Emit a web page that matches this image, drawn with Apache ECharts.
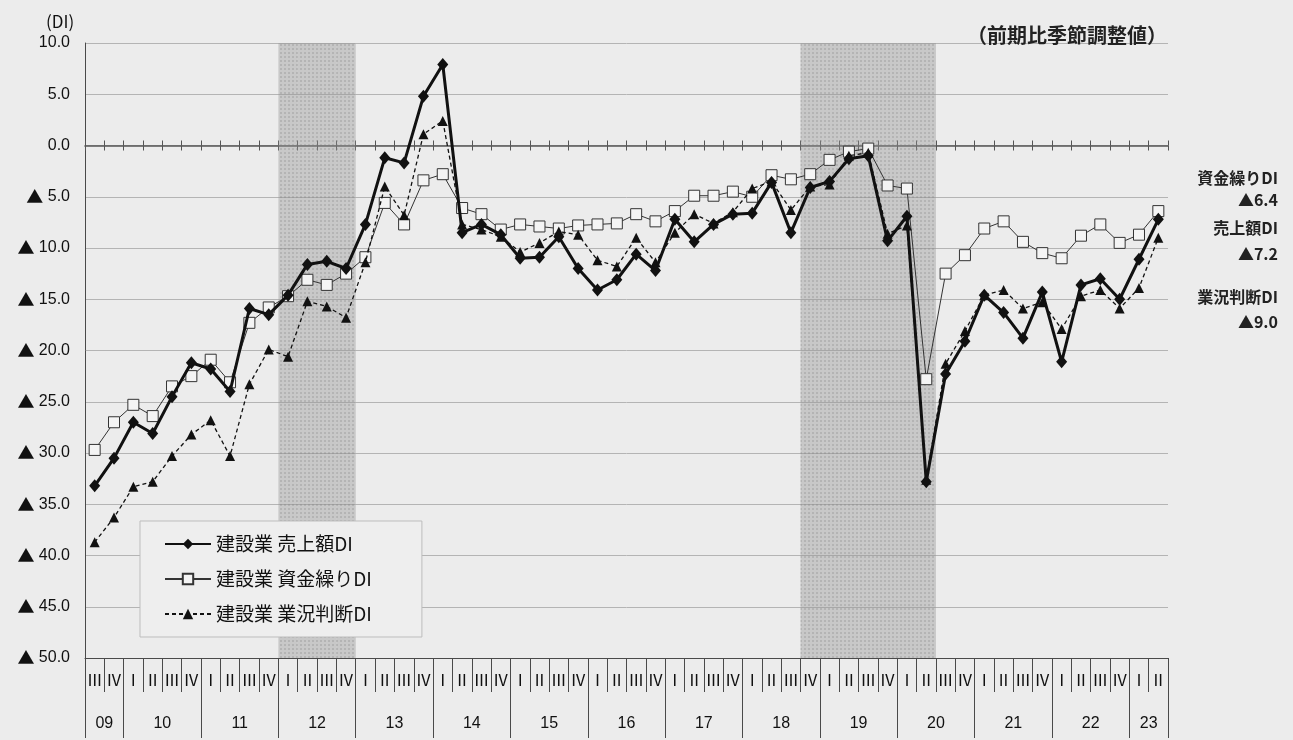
<!DOCTYPE html>
<html><head><meta charset="utf-8">
<script src="https://cdn.jsdelivr.net/npm/echarts@6/dist/echarts.min.js"></script>
<style>html,body{margin:0;padding:0;background:#ececec;}#c{width:1293px;height:740px;}</style>
</head><body><div id="c"></div>
<script>
// ---- data ----
const yearLabels = ['09','10','11','12','13','14','15','16','17','18','19','20','21','22','23'];
const quartersPerYear = [2,4,4,4,4,4,4,4,4,4,4,4,4,4,2];
const quarterLabels = ['Ⅲ','Ⅳ',
  'Ⅰ','Ⅱ','Ⅲ','Ⅳ','Ⅰ','Ⅱ','Ⅲ','Ⅳ','Ⅰ','Ⅱ','Ⅲ','Ⅳ','Ⅰ','Ⅱ','Ⅲ','Ⅳ',
  'Ⅰ','Ⅱ','Ⅲ','Ⅳ','Ⅰ','Ⅱ','Ⅲ','Ⅳ','Ⅰ','Ⅱ','Ⅲ','Ⅳ','Ⅰ','Ⅱ','Ⅲ','Ⅳ',
  'Ⅰ','Ⅱ','Ⅲ','Ⅳ','Ⅰ','Ⅱ','Ⅲ','Ⅳ','Ⅰ','Ⅱ','Ⅲ','Ⅳ','Ⅰ','Ⅱ','Ⅲ','Ⅳ',
  'Ⅰ','Ⅱ','Ⅲ','Ⅳ','Ⅰ','Ⅱ'];
const sales = [-33.2,-30.5,-27.0,-28.1,-24.5,-21.2,-21.8,-24.0,-15.9,-16.5,
  -14.6,-11.6,-11.3,-12.0,-7.7,-1.2,-1.7,4.8,7.9,-8.5,
  -7.7,-8.7,-11.0,-10.9,-8.9,-12.0,-14.1,-13.1,-10.6,-12.2,
  -7.2,-9.4,-7.7,-6.7,-6.6,-3.6,-8.5,-4.1,-3.5,-1.3,
  -1.0,-9.3,-6.9,-32.8,-22.3,-19.1,-14.6,-16.3,-18.8,-14.3,
  -21.1,-13.6,-13.0,-15.0,-11.1,-7.2];
const funding = [-29.7,-27.0,-25.3,-26.4,-23.5,-22.5,-20.9,-23.1,-17.3,-15.8,
  -14.7,-13.1,-13.6,-12.5,-10.9,-5.6,-7.7,-3.4,-2.8,-6.1,
  -6.7,-8.2,-7.7,-7.9,-8.1,-7.8,-7.7,-7.6,-6.7,-7.4,
  -6.4,-4.9,-4.9,-4.5,-5.0,-2.9,-3.3,-2.8,-1.4,-0.6,
  -0.3,-3.9,-4.2,-22.8,-12.5,-10.7,-8.1,-7.4,-9.4,-10.5,
  -11.0,-8.8,-7.7,-9.5,-8.7,-6.4];
const business = [-38.7,-36.3,-33.3,-32.8,-30.3,-28.2,-26.8,-30.3,-23.3,-19.9,
  -20.6,-15.2,-15.7,-16.8,-11.4,-4.0,-6.8,1.1,2.4,-7.7,
  -8.2,-8.9,-10.4,-9.5,-8.4,-8.7,-11.2,-11.8,-9.0,-11.4,
  -8.5,-6.7,-7.6,-6.5,-4.2,-3.5,-6.3,-4.0,-3.8,-1.0,
  -0.7,-8.6,-7.8,-32.6,-21.3,-18.1,-14.6,-14.1,-15.9,-15.3,
  -17.9,-14.7,-14.1,-15.9,-13.9,-9.0];
const shadedRanges = [['12-1','12-4'], ['18-4','20-2']];
const seriesNames = ['建設業 売上額DI','建設業 資金繰りDI','建設業 業況判断DI'];
const yTickValues = [10,5,0,-5,-10,-15,-20,-25,-30,-35,-40,-45,-50];
const yTickLabels = ['10.0','5.0','0.0','▲ 5.0','▲ 10.0','▲ 15.0','▲ 20.0','▲ 25.0','▲ 30.0','▲ 35.0','▲ 40.0','▲ 45.0','▲ 50.0'];
const sideTexts = ['資金繰りDI','▲6.4','売上額DI','▲7.2','業況判断DI','▲9.0'];
const headerText = '（前期比季節調整値）';
const unitText = '(DI)';

// ---- derived ----
const periods = [];
const yearStarts = [];
const yearCenters = [];
let pos = 0;
yearLabels.forEach((y, k) => {
  const n = quartersPerYear[k];
  const firstQ = (k === 0) ? 3 : 1;
  yearStarts.push(pos);
  yearCenters.push(pos + n / 2);
  for (let q = 0; q < n; q++) periods.push(y + '-' + (firstQ + q));
  pos += n;
});
const totalQ = periods.length;
const shade = periods.map((p, i) => {
  for (const r of shadedRanges) {
    if (i >= periods.indexOf(r[0]) && i <= periods.indexOf(r[1])) return 1;
  }
  return '-';
});

const chart = echarts.init(document.getElementById('c'));
const AX = '#4a4a4a';
const sideY = [178, 200, 228, 254, 297, 322];
const JP = 'Noto Sans CJK JP';
chart.setOption({
  animation: false,
  backgroundColor: '#ececec',
  title: [
    { text: unitText, left: 41, top: 8, textStyle: { fontSize: 17, fontWeight: 'normal', fontFamily: JP, color: '#111' } },
    { text: headerText, right: 121, top: 20, textStyle: { fontSize: 20, fontWeight: 'bold', fontFamily: JP, color: '#222' } }
  ],
  graphic: sideTexts.map((t, i) => ({
    type: 'text', x: 1278, y: sideY[i],
    style: { text: t, align: 'right', verticalAlign: 'middle', fill: '#222',
      font: 'bold 16px "Noto Sans CJK JP", sans-serif' }
  })),
  legend: {
    data: seriesNames, orient: 'vertical', left: 140, top: 521,
    padding: [12, 50, 12, 24], itemGap: 13, itemWidth: 46, itemHeight: 13,
    backgroundColor: '#eeeeee', borderColor: '#bdbdbd', borderWidth: 1,
    textStyle: { fontSize: 19, lineHeight: 22, fontFamily: JP, color: '#111' }
  },
  grid: { left: 85, right: 125, top: 43, bottom: 82 },
  xAxis: [
    { type: 'category', data: periods, position: 'bottom',
      axisLine: { show: true, onZero: false, lineStyle: { color: AX } },
      axisTick: { show: true, interval: 0, length: 34, lineStyle: { color: AX } },
      axisLabel: { interval: 0, formatter: (v, i) => quarterLabels[i], margin: 14, fontSize: 16,
        fontFamily: JP, color: '#111' } },
    { type: 'category', data: periods, position: 'bottom',
      axisLine: { show: false, onZero: false },
      axisTick: { show: true, interval: (i) => yearStarts.includes(i), length: 80, lineStyle: { color: AX } },
      axisLabel: { show: false } },
    { type: 'value', min: 0, max: totalQ, interval: 1, position: 'bottom', offset: 50,
      axisLine: { show: false, onZero: false }, axisTick: { show: false }, splitLine: { show: false },
      axisLabel: { margin: 8, fontSize: 16, color: '#111', fontFamily: 'Liberation Sans',
        formatter: (v) => { const k = yearCenters.indexOf(Math.round(v)); return k >= 0 ? yearLabels[k] : ''; } } },
    { type: 'category', data: periods,
      axisLine: { show: true, onZero: true, onZeroAxisIndex: 0, lineStyle: { color: '#555', width: 1.6 } },
      axisTick: { show: true, interval: 0, length: 5, lineStyle: { color: '#555' } },
      axisLabel: { show: false } },
    { type: 'category', data: periods,
      axisLine: { show: false, onZero: true, onZeroAxisIndex: 0 },
      axisTick: { show: true, interval: 0, length: 5, inside: true, lineStyle: { color: '#555' } },
      axisLabel: { show: false } }
  ],
  yAxis: [
    { type: 'value', min: -50, max: 10, interval: 5,
      axisLine: { show: true, onZero: false, lineStyle: { color: AX } },
      axisTick: { show: false },
      splitLine: { lineStyle: { color: '#b4b4b4' } },
      axisLabel: { margin: 15, fontSize: 16, color: '#111', fontFamily: 'Liberation Sans',
        formatter: (v) => {
          const k = yTickValues.indexOf(v);
          if (k < 0) return '';
          const s = yTickLabels[k];
          return s.charAt(0) === '▲' ? '{t|▲}' + s.slice(1) : s;
        },
        rich: { t: { fontFamily: JP, fontSize: 17, color: '#111' } } } },
    { type: 'value', min: 0, max: 1, show: false }
  ],
  series: [
    { name: 'shade', type: 'bar', xAxisIndex: 0, yAxisIndex: 1, data: shade, barWidth: '100%',
      silent: true, z: 1,
      itemStyle: { color: 'rgba(150,150,150,0.42)',
        decal: { symbol: 'rect', symbolSize: 1, dashArrayX: [2, 2], dashArrayY: [2, 2], color: 'rgba(120,120,120,0.25)' } } },
    { name: seriesNames[1], type: 'line', data: funding, symbol: 'rect', symbolSize: 11,
      showAllSymbol: true, z: 3,
      lineStyle: { width: 1, color: '#333' },
      itemStyle: { color: '#f4f4f4', borderColor: '#333', borderWidth: 1 } },
    { name: seriesNames[2], type: 'line', data: business, symbol: 'triangle', symbolSize: 10,
      showAllSymbol: true, z: 4,
      lineStyle: { width: 1.3, type: [4, 3], color: '#111' },
      itemStyle: { color: '#111' } },
    { name: seriesNames[0], type: 'line', data: sales, symbol: 'diamond', symbolSize: [11, 13],
      showAllSymbol: true, z: 5,
      lineStyle: { width: 3, color: '#111' },
      itemStyle: { color: '#111' } }
  ]
});
</script></body></html>
